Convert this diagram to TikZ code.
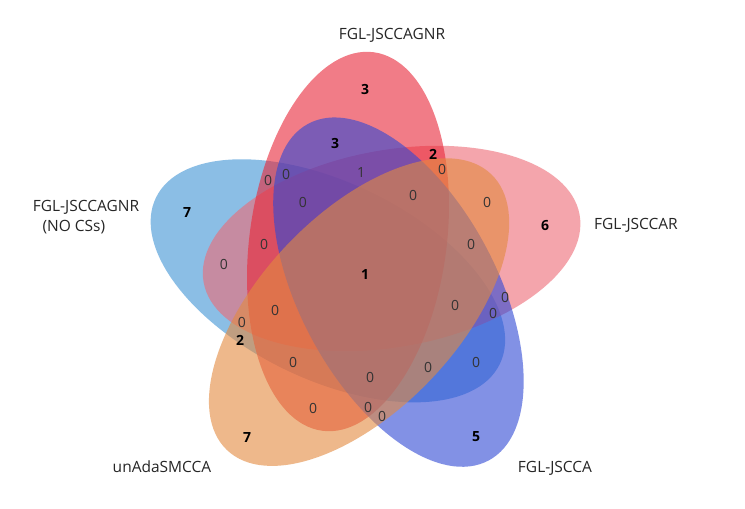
\documentclass[tikz,border=0pt]{standalone}
\usepackage{fontspec}
\setmainfont{Open Sans}
\definecolor{cRed}{RGB}{233,38,55}
\definecolor{cPink}{RGB}{238,105,117}
\definecolor{cBlue}{RGB}{63,147,213}
\definecolor{cPurple}{RGB}{47,72,213}
\definecolor{cOrange}{RGB}{227,138,63}
\tikzset{
  setlabel/.style={font=\fontsize{15.5}{17}\selectfont, text=black!85},
  num/.style={font=\fontsize{14}{16}\selectfont, text=black!80, inner sep=0pt},
  bnum/.style={font=\fontsize{14}{16}\selectfont\bfseries, text=black, inner sep=0pt},
  setfill/.style={fill=#1, fill opacity=.6},
}
\begin{document}
\begin{tikzpicture}[x=1pt,y=-1pt]
\useasboundingbox (0,0) rectangle (745,509);
\fill[white] (0,0) rectangle (745,509);
\coordinate (C) at (365,275);
% sets: one ellipse rotated about the centre in steps of 72 degrees
\foreach \k/\col in {4/cBlue,1/cPink,0/cRed,2/cPurple,3/cOrange}{
  \begin{scope}[rotate around={-72*\k:(C)}]
    \fill[setfill=\col, shift={(348,241.5)}, rotate=82.2]
      (0,0) ellipse [x radius=191pt, y radius=98.5pt];
  \end{scope}
}
% set labels
\node[setlabel] (lred) at (392,35) {FGL-JSCCAGNR};
\node[setlabel] (lblue) at (86,207) {FGL-JSCCAGNR};
\node[setlabel, anchor=west] (lblue2) at (39,227) {(NO CSs)};
\node[setlabel] (lpink) at (636,225) {FGL-JSCCAR};
\node[setlabel] (lpurple) at (555,468) {FGL-JSCCA};
\node[setlabel] (lorange) at (162,467) {unAdaSMCCA};
% counts
\node[bnum] (n1) at (365,89) {3};
\node[bnum] (n2) at (335,143) {3};
\node[bnum] (n3) at (433,154) {2};
\node[num] (n4) at (442,169) {0};
\node[num] (n5) at (361,172) {1};
\node[num] (n6) at (268,180) {0};
\node[num] (n7) at (286,174) {0};
\node[num] (n8) at (303,202) {0};
\node[num] (n9) at (413,195) {0};
\node[num] (n10) at (487,202) {0};
\node[bnum] (n11) at (187,213) {7};
\node[bnum] (n12) at (545,226) {6};
\node[num] (n13) at (264,244) {0};
\node[num] (n14) at (224,264) {0};
\node[bnum] (n15) at (365,274) {1};
\node[num] (n16) at (471,244) {0};
\node[num] (n17) at (455,305) {0};
\node[num] (n18) at (505,297) {0};
\node[num] (n19) at (493,313) {0};
\node[num] (n20) at (275,310) {0};
\node[num] (n21) at (242,322) {0};
\node[bnum] (n22) at (240,340) {2};
\node[num] (n23) at (293,362) {0};
\node[num] (n24) at (370,377) {0};
\node[num] (n25) at (428,367) {0};
\node[num] (n26) at (476,362) {0};
\node[num] (n27) at (313,408) {0};
\node[num] (n28) at (368,407) {0};
\node[num] (n29) at (382,416) {0};
\node[bnum] (n30) at (247,438) {7};
\node[bnum] (n31) at (476,437) {5};
\end{tikzpicture}
\end{document}
